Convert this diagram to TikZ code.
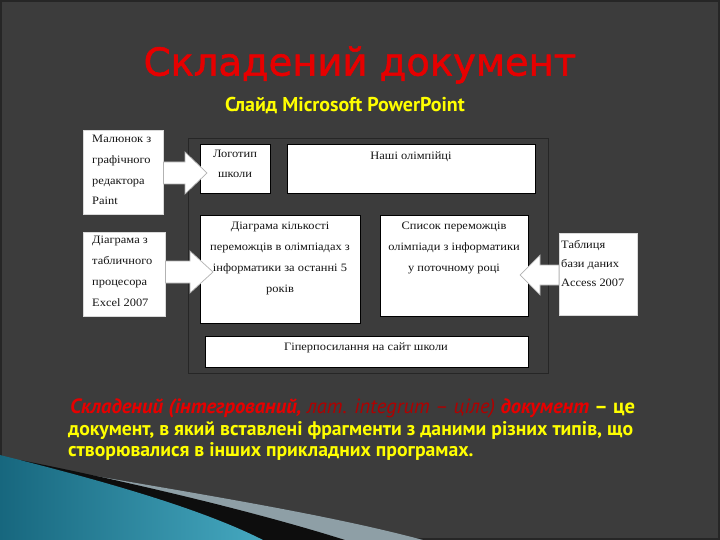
\documentclass[tikz,border=0pt]{standalone}
\usepackage{fontspec}
\setmainfont{Liberation Serif}
\newfontfamily\titlefont[FakeBold=1.5]{DejaVu Sans}
\newfontfamily\ptsans{PT Sans}
\newfontfamily\boxfont[FakeStretch=1.1]{Liberation Serif}
\usetikzlibrary{calc}
\definecolor{bg}{HTML}{3C3C3C}
\definecolor{frameline}{HTML}{262626}
\definecolor{titlered}{HTML}{E60000}
\definecolor{darkred}{HTML}{B00000}
\definecolor{slideyellow}{HTML}{FFFF00}
\definecolor{tealdark}{HTML}{17677E}
\definecolor{teallight}{HTML}{45A8C0}
\definecolor{bandgray}{HTML}{8E9FA6}
\tikzset{
  box/.style={draw=black, fill=white, line width=0.7pt, anchor=north west, inner sep=0pt},
  outbox/.style={draw=white!85!black, fill=white, line width=0.5pt, anchor=north west, inner sep=0pt},
  boxtext/.style={font=\boxfont\fontsize{11.3}{20.7}\selectfont, inner sep=0pt, text=black!92},
  blockarrow/.style={fill=white, draw=gray!60, line width=0.7pt, line join=miter},
  para/.style={font=\ptsans\bfseries\fontsize{19.7}{21}\selectfont, inner sep=0pt, anchor=base west, text=slideyellow}
}
\begin{document}
\begin{tikzpicture}[x=1pt,y=-1pt]
\useasboundingbox (0,0) rectangle (720,540);
\fill[bg] (0,0) rectangle (720,540);
\draw[frameline, line width=2pt] (1,1) rectangle (719,539);

% bottom-left decoration
\fill[bandgray] (60,470) .. controls (200,494) and (330,515) .. (423,540) -- (0,540) -- cycle;
\fill[black!95] (20,460) .. controls (120,480) and (250,510) .. (345,540) -- (0,540) -- cycle;
\shade[left color=tealdark, right color=teallight] (0,455) .. controls (100,480) and (200,508) .. (263,540) -- (0,540) -- cycle;

% title
\node[text=titlered, font=\titlefont\fontsize{38.5}{46}\selectfont, inner sep=0pt] (title) at (360,65) {Складений документ};
\node[text=slideyellow, font=\ptsans\bfseries\fontsize{20}{24}\selectfont, inner sep=0pt] (subtitle) at (345,106) {Слайд Microsoft PowerPoint};

% slide frame
\node[draw=frameline, line width=1.2pt, minimum width=360, minimum height=235, anchor=north west, inner sep=0pt] (frame) at (188,138) {};

% inner boxes
\node[box, minimum width=70, minimum height=49] (logo) at (200,144) {};
\node[box, minimum width=248, minimum height=49] (olymp) at (287,144) {};
\node[box, minimum width=160, minimum height=108] (chart) at (200,215) {};
\node[box, minimum width=148, minimum height=101] (list) at (380,215) {};
\node[box, minimum width=323, minimum height=31] (hyper) at (205,336) {};

% outer boxes
\node[outbox, minimum width=80, minimum height=84] (paint) at (83,130) {};
\node[outbox, minimum width=82, minimum height=84] (excel) at (83,232) {};
\node[outbox, minimum width=78, minimum height=82] (access) at (559,233) {};

% block arrows
\filldraw[blockarrow] (paint.east |- 0,162) -- (185,162) -- (185,152) -- (207,173) -- (185,194) -- (185,184) -- (paint.east |- 0,184) -- cycle;
\filldraw[blockarrow] (excel.east |- 0,261) -- (190,261) -- (190,251) -- (213,272) -- (190,293) -- (190,283) -- (excel.east |- 0,283) -- cycle;
\filldraw[blockarrow] (access.west |- 0,265) -- (540,265) -- (540,255) -- (520,275) -- (540,295) -- (540,285) -- (access.west |- 0,285) -- cycle;

% box texts (base anchor = baseline of the last line)
\node[boxtext, anchor=base west, align=left] (tpaint) at (92,205) {Малюнок з\\графічного\\редактора\\Paint};
\node[boxtext, anchor=base west, align=left] (texcel) at (92,306) {Діаграма з\\табличного\\процесора\\Excel 2007};
\node[boxtext, anchor=base west, align=left, font=\boxfont\fontsize{11.3}{19}\selectfont] (taccess) at (561,286) {Таблиця\\бази даних\\Access 2007};
\node[boxtext, anchor=base, align=center, font=\boxfont\fontsize{11.3}{20}\selectfont] (tlogo) at (235,178) {Логотип\\школи};
\node[boxtext, anchor=base] (tolymp) at (411,160) {Наші олімпійці};
\node[boxtext, anchor=base, align=center] (tchart) at (280,292) {Діаграма кількості\\переможців в олімпіадах з\\інформатики за останні 5\\років};
\node[boxtext, anchor=base, align=center] (tlist) at (454,271) {Список переможців\\олімпіади з інформатики\\у поточному році};
\node[boxtext, anchor=base] (thyper) at (366,350) {Гіперпосилання на сайт школи};

% paragraph
\node[para, font=\ptsans\bfseries\fontsize{20.6}{22}\selectfont] (line1) at (70,413) {\textcolor{titlered}{\itshape Складений (інтегрований, }\textcolor{darkred}{\itshape\mdseries лат. integrum – ціле) }\textcolor{titlered}{\itshape документ} – це};
\node[para] (line2) at (68,435) {документ, в який вставлені фрагменти з даними різних типів, що};
\node[para] (line3) at (68,456) {створювалися в інших прикладних програмах.};
\end{tikzpicture}
\end{document}
